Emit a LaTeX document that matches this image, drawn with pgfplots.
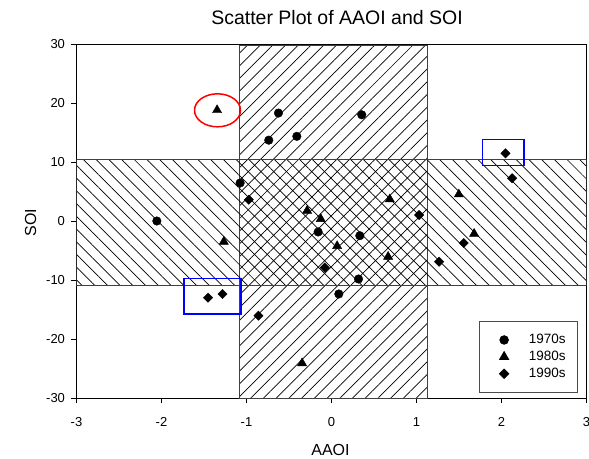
\documentclass[border=0pt]{standalone}
\usepackage{fontspec}
\setmainfont{Liberation Sans}
\usepackage{pgfplots}
\pgfplotsset{compat=1.18}
\usetikzlibrary{patterns.meta}
\pgfplotsset{mylegimg/.style={legend image code/.code={\path (-5.5pt,0pt); \draw[mark repeat=2,mark phase=2,##1] plot coordinates {(0cm,0cm)(0.3cm,0cm)(0.6cm,0cm)};}}}

\begin{document}
\begin{tikzpicture}
\useasboundingbox (-76.5pt,-60pt) rectangle (512.5pt,398pt);
\begin{axis}[
  at={(0pt,0pt)}, anchor=south west,
  scale only axis, width=510pt, height=354pt,
  xmin=-3, xmax=3, ymin=-30, ymax=30,
  xtick={-3,-2,-1,0,1,2,3}, ytick={-30,-20,-10,0,10,20,30},
  tick align=outside, tick pos=left, major tick length=5pt,
  axis line style={black, line width=0.8pt},
  tick style={black, line width=0.8pt},
  /pgf/number format/assume math mode=true,
  ticklabel style={font=\fontsize{13}{15}\selectfont},
  yticklabel style={xshift=-3pt},
  xticklabel style={yshift=-11pt},
  title={Scatter Plot of AAOI and SOI},
  every axis title/.style={at={(axis description cs:0.5108,1.0537)}, anchor=base, font=\fontsize{19.5}{22}\selectfont},
  xlabel={AAOI},
  every axis x label/.style={at={(axis description cs:0.498,-0.163)}, anchor=base, font=\fontsize{16}{18}\selectfont},
  ylabel={SOI},
  every axis y label/.style={at={(axis description cs:-0.0794,0.4958)}, anchor=base, rotate=90, font=\fontsize{16}{18}\selectfont},
  legend style={at={(axis description cs:0.9833,0.015)}, anchor=south east, draw=black!70, line width=0.8pt,
    font=\fontsize{13.5}{15}\selectfont, inner xsep=10pt, inner ysep=11pt, row sep=2pt,
    /tikz/every odd column/.append style={column sep=18pt}},
  legend cell align=left,
]
% hatched bands
\addplot[forget plot, draw=black!75, line width=0.8pt, pattern={Lines[angle=45, distance=9pt, line width=0.7pt]}]
  coordinates {(-1.08,-30) (1.13,-30) (1.13,29.7) (-1.08,29.7)} -- cycle;
\addplot[forget plot, draw=black!75, line width=0.8pt, pattern={Lines[angle=-45, distance=9pt, line width=0.7pt]}]
  coordinates {(-3,-10.85) (3,-10.85) (3,10.5) (-3,10.5)} -- cycle;

% 1970s
\addplot[only marks, mylegimg, mark=*, mark size=4.3pt, mark options={fill=black, draw=black}]
  coordinates {(-0.624,18.3) (-0.738,13.7) (-0.408,14.35) (0.356,18.0) (-1.075,6.44)
               (-2.055,0.0) (-0.157,-1.86) (0.333,-2.49) (0.318,-9.83) (0.086,-12.37)};
\addlegendentry{1970s}
% 1980s
\addplot[only marks, mylegimg, mark=triangle*, mark size=5.3pt, mark options={fill=black, draw=black}]
  coordinates {(-1.346,18.8) (-0.287,1.75) (-0.126,0.34) (0.686,3.68) (1.498,4.52)
               (0.066,-4.24) (0.666,-6.05) (-1.267,-3.5) (1.678,-2.15) (-0.346,-24.1)};
\addlegendentry{1980s}
% 1990s
\addplot[only marks, mylegimg, mark=square*, mark size=3.3pt, mark options={fill=black, draw=black, rotate=45}]
  coordinates {(-0.973,3.61) (1.031,1.02) (2.047,11.47) (2.125,7.24) (-0.079,-7.9)
               (-1.452,-13.0) (-1.282,-12.37) (-0.859,-16.05) (1.556,-3.73) (1.266,-6.9)};
\addlegendentry{1990s}

% annotations
\draw[red, line width=1.5pt] (axis cs:-1.341,18.76) ellipse [x radius=23pt, y radius=16.5pt];
\draw[blue, line width=1.5pt] (axis cs:1.776,9.37) rectangle (axis cs:2.266,13.78);
\draw[blue, line width=1.5pt] (axis cs:-1.734,-15.8) rectangle (axis cs:-1.067,-9.78);
\end{axis}
\end{tikzpicture}
\end{document}
